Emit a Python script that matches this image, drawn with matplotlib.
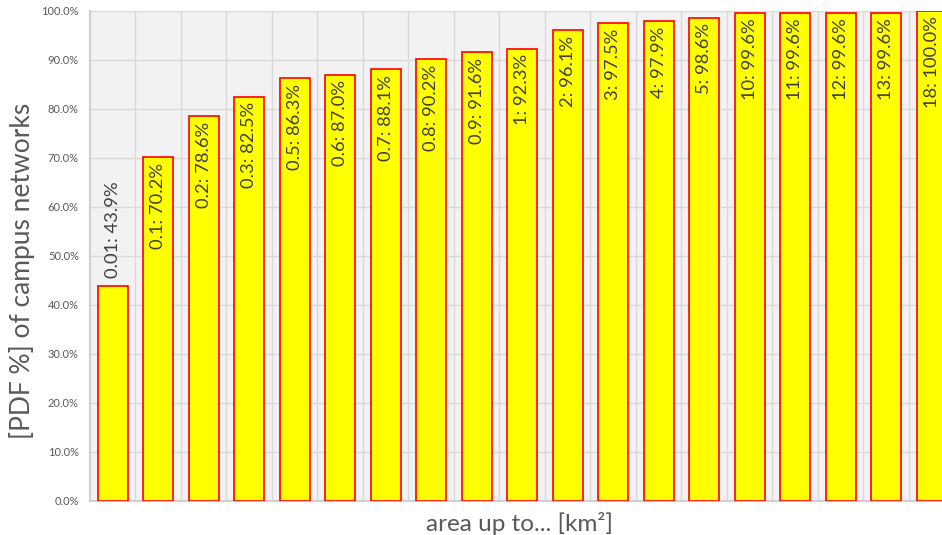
import matplotlib
matplotlib.use('Agg')
import matplotlib.pyplot as plt
from matplotlib.ticker import PercentFormatter, MultipleLocator
import numpy as np

plt.rcParams['font.family'] = ['Lato', 'DejaVu Sans']

# cumulative share of campus networks by area
areas = ['0.01', '0.1', '0.2', '0.3', '0.5', '0.6', '0.7', '0.8', '0.9', '1',
         '2', '3', '4', '5', '10', '11', '12', '13', '18']
shares = [43.9, 70.2, 78.6, 82.5, 86.3, 87.0, 88.1, 90.2, 91.6, 92.3,
          96.1, 97.5, 97.9, 98.6, 99.6, 99.6, 99.6, 99.6, 100.0]

text_grey = '#404040'
tick_grey = '#595959'

fig = plt.figure(figsize=(9.42, 5.35), dpi=100)
ax = fig.add_axes([0.0955, 0.0636, 0.9177, 0.9159])
ax.set_facecolor('#f2f2f2')

x = np.arange(len(areas))
bars = ax.bar(x, shares, width=0.66, color='#ffff00', edgecolor='#ff0000',
              linewidth=1.2, zorder=3)

# rotated value labels near the top of each bar
for i, (a, v) in enumerate(zip(areas, shares)):
    if i == 0:
        ax.annotate(f'{a}: {v:.1f}%', (x[i], v), xytext=(0, 6),
                    textcoords='offset points', rotation=90,
                    ha='center', va='bottom', fontsize=13.2, color=text_grey,
                    zorder=4)
    else:
        ax.annotate(f'{a}: {v:.1f}%', (x[i], v), xytext=(0, -4),
                    textcoords='offset points', rotation=90,
                    ha='center', va='top', fontsize=13.2, color=text_grey,
                    zorder=4)

ax.set_xlim(-0.5, len(areas) - 0.5)
ax.set_ylim(0, 100)
ax.yaxis.set_major_locator(MultipleLocator(10))
ax.yaxis.set_major_formatter(PercentFormatter(decimals=1))

# gridlines between categories and at each 10 %
ax.set_xticks(x[:-1] + 0.5, minor=True)
ax.set_xticks([])
ax.grid(axis='y', color='#d9d9d9', linewidth=1.0, zorder=0)
ax.grid(axis='x', which='minor', color='#d9d9d9', linewidth=1.0, zorder=0)
ax.tick_params(axis='x', which='both', length=0)
ax.tick_params(axis='y', length=0, labelsize=8, labelcolor=tick_grey, pad=8)

for side in ['top', 'right']:
    ax.spines[side].set_visible(False)
ax.spines['left'].set_color('#d0d0d0')
ax.spines['left'].set_linewidth(1.5)
ax.spines['bottom'].set_color('#d0d0d0')
ax.spines['bottom'].set_linewidth(1.5)

ax.set_xlabel('area up to... [km²]', fontsize=17.5, color=tick_grey)
ax.xaxis.set_label_coords(0.497, -0.0225)
ax.xaxis.label.set_va('top')
ax.set_ylabel('[PDF %] of campus networks', fontsize=19, color=tick_grey)
ax.yaxis.set_label_coords(-0.063, 0.47)

fig.savefig('out.png', dpi=100, facecolor='white')
